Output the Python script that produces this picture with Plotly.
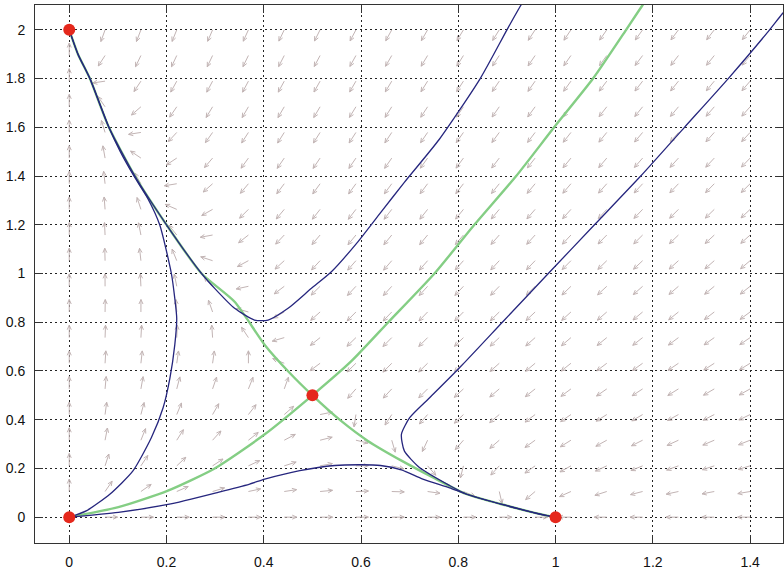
import numpy as np
import plotly.graph_objects as go

# ---------------- data ----------------
# equilibria (red dots)
eq_x = [0.0, 0.0, 1.0, 0.5]
eq_y = [0.0, 2.0, 0.0, 0.5]

# competition model whose equilibria are the red dots:
# x' = x (r1 - a11 x - a12 y),  y' = y (r2 - a21 x - a22 y)
r1, a11, a12 = 1.0, 1.0, 1.0
r2, a21, a22 = 2.0, 3.0, 1.0

# direction-field sample grid (20 x 20)
field_x = np.linspace(0.0, 1.4, 20)
field_y = np.linspace(0.0, 2.0, 20)

# separatrix through the saddle, (0,2) -> (0.5,0.5) -> (1,0)
green_a_x = [0.0, 0.018, 0.0425, 0.0815, 0.135, 0.200, 0.272, 0.340, 0.402, 0.450, 0.500,
             0.559, 0.614, 0.684, 0.748, 0.816, 0.898, 0.980, 1.0]
green_a_y = [2.0, 1.90, 1.80, 1.60, 1.40, 1.20, 1.00, 0.884, 0.707, 0.599, 0.500,
             0.395, 0.313, 0.231, 0.163, 0.095, 0.048, 0.007, 0.0]
# stable manifold of the saddle, (0,0) -> (0.5,0.5) -> top
green_b_x = [0.0, 0.101, 0.203, 0.299, 0.402, 0.500, 0.580, 0.656, 0.751, 0.833, 0.919,
             0.997, 1.077, 1.145, 1.179, 1.20]
green_b_y = [0.0, 0.041, 0.109, 0.200, 0.340, 0.500, 0.640, 0.800, 1.000, 1.200, 1.400,
             1.600, 1.800, 2.000, 2.102, 2.16]

# trajectories (blue)
blue1_x = [0.0, 0.036, 0.084, 0.131, 0.169, 0.193, 0.207, 0.217, 0.221, 0.217, 0.210,
           0.186, 0.162, 0.133, 0.105, 0.0815, 0.0425, 0.018, 0.0]
blue1_y = [0.0, 0.027, 0.095, 0.190, 0.327, 0.449, 0.571, 0.707, 0.816, 0.898, 1.000,
           1.200, 1.306, 1.400, 1.500, 1.600, 1.800, 1.900, 2.0]

blue2_x = [0.0, 0.101, 0.203, 0.306, 0.371, 0.402, 0.474, 0.546, 0.600, 0.640, 0.683, 0.727,
           0.782, 0.816, 0.898, 0.980, 1.0]
blue2_y = [0.0, 0.020, 0.052, 0.102, 0.136, 0.156, 0.191, 0.212, 0.215, 0.212, 0.194, 0.156,
           0.120, 0.095, 0.048, 0.007, 0.0]

blue3_x = [0.945, 0.929, 0.900, 0.845, 0.761, 0.689, 0.641, 0.593, 0.539, 0.498,
           0.450, 0.409, 0.381, 0.340, 0.299, 0.272, 0.200, 0.135, 0.0815, 0.0425, 0.018, 0.0]
blue3_y = [2.150, 2.102, 2.000, 1.800, 1.551, 1.374, 1.252, 1.129, 1.007, 0.939,
           0.857, 0.809, 0.809, 0.857, 0.939, 1.000, 1.200, 1.400, 1.600, 1.800, 1.900, 2.0]

blue4_x = [1.500, 1.467, 1.440, 1.355, 1.265, 1.175, 1.080, 0.985, 0.892, 0.802, 0.741, 0.700,
           0.683, 0.689, 0.720, 0.782, 0.816, 0.898, 0.980, 1.0]
blue4_y = [2.140, 2.068, 2.000, 1.800, 1.600, 1.400, 1.200, 1.000, 0.803, 0.612, 0.490, 0.408,
           0.340, 0.272, 0.204, 0.130, 0.095, 0.048, 0.007, 0.0]

x_ticks = [0, 0.2, 0.4, 0.6, 0.8, 1, 1.2, 1.4]
x_tick_text = ["0", "0.2", "0.4", "0.6", "0.8", "1", "1.2", "1.4"]
y_ticks = [0, 0.2, 0.4, 0.6, 0.8, 1, 1.2, 1.4, 1.6, 1.8, 2]
y_tick_text = ["0", "0.2", "0.4", "0.6", "0.8", "1", "1.2", "1.4", "1.6", "1.8", "2"]

# ---------------- layout geometry ----------------
W, H = 784, 570
ML, MR, MT, MB = 35, 0, 5, 24
x_range = [-0.0704, 1.4676]
y_range = [-0.1061, 2.102]
sx = (W - ML - MR) / (x_range[1] - x_range[0])   # px per x unit
sy = (H - MT - MB) / (y_range[1] - y_range[0])   # px per y unit

# ---------------- direction field arrows ----------------
arrow_px = 12.5
alpha, beta = 0.36, 0.45
ax_list, ay_list = [], []
for yy in field_y:
    for xx in field_x:
        u = xx * (r1 - a11 * xx - a12 * yy)
        v = yy * (r2 - a21 * xx - a22 * yy)
        pu, pv = u * sx, v * sy
        n = np.hypot(pu, pv)
        if n < 1e-12:
            continue
        du, dv = pu / n * arrow_px, pv / n * arrow_px  # screen px (y up)
        tx, ty = xx + du / sx, yy + dv / sy
        h1x = tx + (-alpha * du - alpha * beta * dv) / sx
        h1y = ty + (-alpha * dv + alpha * beta * du) / sy
        h2x = tx + (-alpha * du + alpha * beta * dv) / sx
        h2y = ty + (-alpha * dv - alpha * beta * du) / sy
        ax_list += [xx, tx, None, h1x, tx, h2x, None]
        ay_list += [yy, ty, None, h1y, ty, h2y, None]

fig = go.Figure()
fig.add_trace(go.Scatter(x=ax_list, y=ay_list, mode="lines",
                         line=dict(color="#c2b4b4", width=1), hoverinfo="skip"))

for gx, gy in [(green_a_x, green_a_y), (green_b_x, green_b_y)]:
    fig.add_trace(go.Scatter(x=gx, y=gy, mode="lines",
                             line=dict(color="#84ce84", width=2.4, shape="spline", smoothing=0.6),
                             hoverinfo="skip"))

for bx, by in [(blue1_x, blue1_y), (blue2_x, blue2_y), (blue3_x, blue3_y), (blue4_x, blue4_y)]:
    fig.add_trace(go.Scatter(x=bx, y=by, mode="lines",
                             line=dict(color="#26267e", width=1.3, shape="spline", smoothing=0.6),
                             hoverinfo="skip"))

fig.add_trace(go.Scatter(x=eq_x, y=eq_y, mode="markers",
                         marker=dict(color="#e5281c", size=12, line=dict(width=0)),
                         hoverinfo="skip"))

axis_common = dict(
    showgrid=True, gridcolor="#222222", gridwidth=1, griddash="2px,3px",
    zeroline=False, showline=True, linecolor="#333333", linewidth=1,
    mirror="allticks", ticks="inside", ticklen=8, tickcolor="#333333", tickwidth=1,
    tickfont=dict(family="Liberation Sans, Arial, sans-serif", size=14, color="#111111"),
)

fig.update_layout(
    width=W, height=H,
    margin=dict(l=ML, r=MR, t=MT, b=MB, pad=0),
    paper_bgcolor="white", plot_bgcolor="white",
    showlegend=False,
    xaxis=dict(range=x_range, tickmode="array", tickvals=x_ticks, ticktext=x_tick_text,
               ticklabelstandoff=6, **axis_common),
    yaxis=dict(range=y_range, tickmode="array", tickvals=y_ticks, ticktext=y_tick_text,
               ticklabelstandoff=6, **axis_common),
)

fig.write_html("out.html")
